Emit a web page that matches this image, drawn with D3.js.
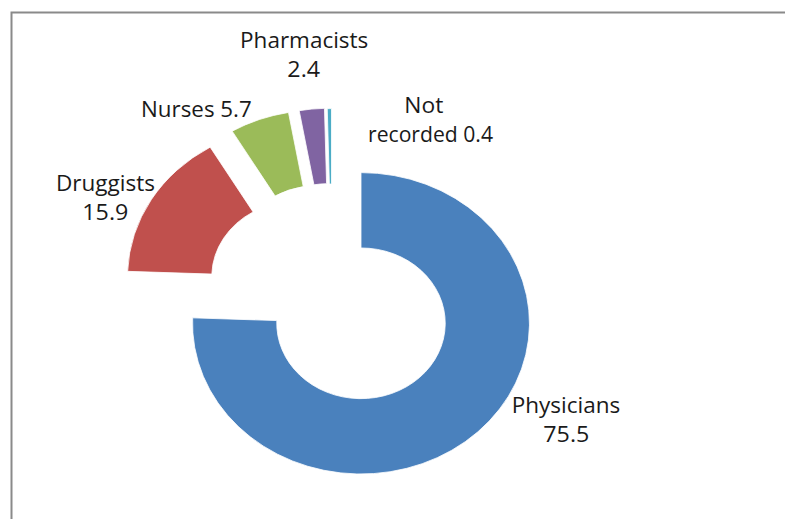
<!DOCTYPE html>
<html>
<head>
<meta charset="utf-8">
<script src="https://cdn.jsdelivr.net/npm/d3@7"></script>
<style>
  html, body { margin: 0; padding: 0; background: #fff; }
  svg { display: block; }
  text { font-family: "Open Sans", "Noto Sans", sans-serif; fill: #1a1a1a; }
</style>
</head>
<body>
<svg id="chart" width="785" height="519"></svg>
<script>
// ---- data ----
const categories = ["Physicians", "Druggists", "Nurses", "Pharmacists", "Not recorded"];
const values = [75.5, 15.9, 5.7, 2.4, 0.4];
const colors = ["#4a81bd", "#c0504d", "#9bbb59", "#8064a2", "#4bacc6"];

// ---- layout (styling / positions, not data) ----
const W = 785, H = 519;
const cx = 361, cy = 323.3;
const rOuter = 150.7, rInner = 75.35;
const sx = 1.118; // horizontal stretch of the doughnut
// explosion offsets in screen px, per slice
const explode = [[0, 0], [-65, -46.5], [-43, -62.5], [-32.3, -64.3], [-29.5, -64]];
// label lines: built from category/value; centre x per line, first baseline, widths
const labelLayout = [
  { lines: d => ["Physicians", d.v.toFixed(1)], x: [566, 566.3], y: 413.3, w: [108.5, 46] },
  { lines: d => ["Druggists", d.v.toFixed(1)], x: [105.5, 105.3], y: 191, w: [99, 46] },
  { lines: d => ["Nurses " + d.v.toFixed(1)], x: [196.4], y: 117.3, w: [110.7] },
  { lines: d => ["Pharmacists", d.v.toFixed(1)], x: [304.2, 303.7], y: 47.7, w: [128.3, 32.7] },
  { lines: d => ["Not", "recorded " + d.v.toFixed(1)], x: [423.8, 430.5], y: 112.7, w: [39, 125] }
];
const lineGap = 28.8;

const svg = d3.select("#chart");

// frame
svg.append("path")
  .attr("d", `M11.5,${H + 2} L11.5,12.5 L${W + 2},12.5`)
  .attr("fill", "none")
  .attr("stroke", "#8a8a8a")
  .attr("stroke-width", 2);

const data = categories.map((c, i) => ({ c, v: values[i], i }));

const pie = d3.pie().sort(null).value(d => d.v).startAngle(0).endAngle(2 * Math.PI);
const arc = d3.arc().innerRadius(rInner).outerRadius(rOuter);

const arcs = pie(data);

svg.append("g")
  .selectAll("g.slice")
  .data(arcs)
  .join("g")
  .attr("class", "slice")
  .attr("transform", d => `translate(${cx + explode[d.index][0]},${cy + explode[d.index][1]}) scale(${sx},1)`)
  .append("path")
  .attr("d", arc)
  .attr("fill", d => colors[d.index])
  .attr("stroke", "#ffffff")
  .attr("stroke-width", 0.8)
  .attr("vector-effect", "non-scaling-stroke");

// labels
const lg = svg.append("g");
data.forEach((d, i) => {
  const L = labelLayout[i];
  const lines = L.lines(d);
  lines.forEach((t, k) => {
    lg.append("text")
      .attr("x", L.x[k])
      .attr("y", L.y + k * lineGap)
      .attr("text-anchor", "middle")
      .attr("font-size", 21)
      .attr("textLength", L.w[k])
      .attr("lengthAdjust", "spacingAndGlyphs")
      .text(t);
  });
});
</script>
</body>
</html>
